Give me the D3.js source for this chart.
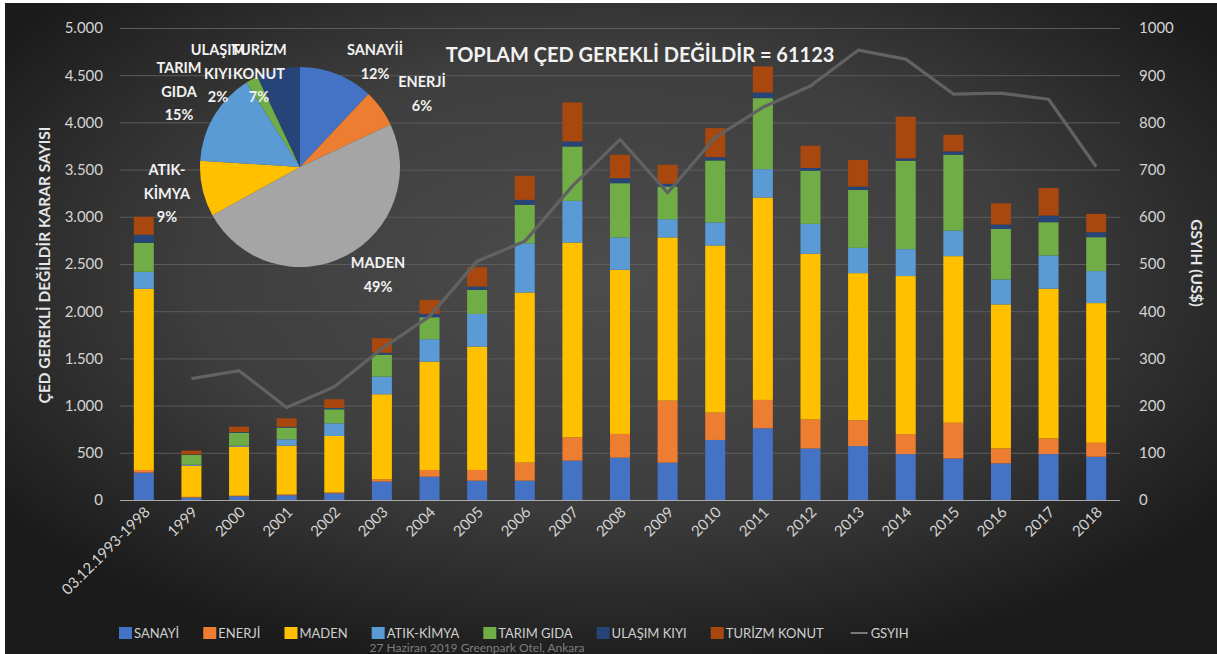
<!DOCTYPE html>
<html>
<head>
<meta charset="utf-8">
<script src="https://cdn.jsdelivr.net/npm/d3@7"></script>
<style>
  body { margin: 0; background: #fff; }
  svg { display: block; font-family: Lato, "Open Sans", sans-serif; }
</style>
</head>
<body>
<svg id="chart" width="1217" height="654"></svg>
<script>
// categories on the x axis
var categories = ["03.12.1993-1998", "1999", "2000", "2001", "2002", "2003", "2004", "2005",
  "2006", "2007", "2008", "2009", "2010", "2011", "2012", "2013", "2014", "2015", "2016", "2017", "2018"];

// stacked series (ÇED gerekli değildir karar sayısı)
var sanayi  = [290, 25, 40, 50, 71, 195, 247, 205, 205, 417, 449, 396, 636, 760, 546, 571, 486, 440, 388, 486, 458];
var enerji  = [28, 8, 5, 10, 9, 24, 71, 113, 191, 247, 251, 657, 290, 300, 307, 275, 212, 378, 158, 166, 148];
var maden   = [1919, 330, 520, 515, 598, 901, 1148, 1307, 1802, 2063, 1738, 1728, 1770, 2144, 1755, 1557, 1674, 1765, 1526, 1586, 1480];
var atik    = [180, 10, 10, 68, 135, 187, 237, 346, 522, 442, 343, 194, 244, 301, 317, 268, 285, 271, 264, 352, 339];
var tarim   = [307, 105, 138, 124, 148, 233, 233, 255, 407, 576, 575, 346, 657, 752, 564, 613, 937, 804, 536, 353, 359];
var ulasim  = [85, 5, 7, 8, 14, 20, 35, 35, 53, 53, 53, 28, 35, 60, 28, 36, 25, 35, 46, 70, 53];
var turizm  = [191, 40, 57, 91, 92, 154, 149, 205, 254, 413, 248, 202, 307, 276, 236, 282, 441, 176, 225, 292, 194];

// line on the right axis
var gsyih = [null, 257, 274, 196, 240, 321, 389, 506, 548, 665, 764, 651, 768, 832, 877, 953, 934, 860, 862, 849, 706];

var seriesNames = ["SANAYİ", "ENERJİ", "MADEN", "ATIK-KİMYA", "TARIM GIDA", "ULAŞIM KIYI", "TURİZM KONUT"];
var seriesColors = ["#4472C4", "#ED7D31", "#FFC000", "#5B9BD5", "#70AD47", "#264478", "#A8480F"];

// pie
var pieValues = [12, 6, 49, 9, 15, 2, 7];
var pieColors = ["#4472C4", "#ED7D31", "#A5A5A5", "#FFC000", "#5B9BD5", "#70AD47", "#264478"];
var pieLabels = [
  { lines: ["SANAYİİ", "12%"], x: 375, y: 55 },
  { lines: ["ENERJİ", "6%"], x: 422, y: 87 },
  { lines: ["MADEN", "49%"], x: 378, y: 268 },
  { lines: ["ATIK-", "KİMYA", "9%"], x: 167, y: 175 },
  { lines: ["TARIM", "GIDA", "15%"], x: 179, y: 73 },
  { lines: ["ULAŞIM", "KIYI", "2%"], x: 218, y: 55 },
  { lines: ["TURİZM", "KONUT", "7%"], x: 259, y: 55 }
];

var leftTicks = [0, 500, 1000, 1500, 2000, 2500, 3000, 3500, 4000, 4500, 5000];
var rightTicks = [0, 100, 200, 300, 400, 500, 600, 700, 800, 900, 1000];

var svg = d3.select("#chart");
var W = 1217, H = 654;

var defs = svg.append("defs");
var bg = defs.append("radialGradient").attr("id", "bg")
  .attr("cx", "50%").attr("cy", "42%").attr("r", "62%");
bg.append("stop").attr("offset", "0%").attr("stop-color", "#4c4c4c");
bg.append("stop").attr("offset", "55%").attr("stop-color", "#3e3e3e");
bg.append("stop").attr("offset", "100%").attr("stop-color", "#1b1b1b");

svg.append("rect").attr("x", 5).attr("y", 3).attr("width", W - 5).attr("height", H - 3)
  .attr("fill", "url(#bg)");

var plot = { left: 120, right: 1120, top: 28, bottom: 500 };

var x = d3.scaleBand().domain(categories)
  .range([plot.left, plot.right]).paddingInner(0.58).paddingOuter(0.29);
var y = d3.scaleLinear().domain([0, 5000]).range([plot.bottom, plot.top]);
var y2 = d3.scaleLinear().domain([0, 1000]).range([plot.bottom, plot.top]);

// gridlines
svg.append("g")
  .attr("transform", "translate(" + plot.left + ",0)")
  .call(d3.axisLeft(y).tickValues(leftTicks).tickSize(-(plot.right - plot.left)).tickFormat(""))
  .call(function(g) {
    g.select(".domain").remove();
    g.selectAll("line").attr("stroke", "#5c5c5c").attr("stroke-width", 1);
  });

// left axis labels
svg.append("g")
  .attr("transform", "translate(" + plot.left + ",0)")
  .call(d3.axisLeft(y).tickValues(leftTicks).tickSize(0).tickPadding(17)
    .tickFormat(function(d) { return d === 0 ? "0" : d3.format(",")(d).replace(",", "."); }))
  .call(function(g) {
    g.select(".domain").remove();
    g.selectAll("text").attr("fill", "#d4d4d4").style("font-size", "15px").style("font-family", "Lato");
  });

// right axis labels
svg.append("g")
  .attr("transform", "translate(" + plot.right + ",0)")
  .call(d3.axisRight(y2).tickValues(rightTicks).tickSize(0).tickPadding(19).tickFormat(d3.format("d")))
  .call(function(g) {
    g.select(".domain").remove();
    g.selectAll("text").attr("fill", "#d4d4d4").style("font-size", "15px").style("font-family", "Lato");
  });

// pie
var pie = d3.pie().sort(null).value(function(d) { return d; });
var arc = d3.arc().innerRadius(0).outerRadius(100);
var pieG = svg.append("g").attr("transform", "translate(300,167)");
pieG.selectAll("path").data(pie(pieValues)).enter().append("path")
  .attr("d", arc).attr("fill", function(d, i) { return pieColors[i]; });

// stacked bars
var rows = categories.map(function(c, i) {
  return { cat: c, "SANAYİ": sanayi[i], "ENERJİ": enerji[i], "MADEN": maden[i], "ATIK-KİMYA": atik[i],
    "TARIM GIDA": tarim[i], "ULAŞIM KIYI": ulasim[i], "TURİZM KONUT": turizm[i] };
});
var stacked = d3.stack().keys(seriesNames)(rows);

svg.append("g").selectAll("g").data(stacked).enter().append("g")
  .attr("fill", function(d, i) { return seriesColors[i]; })
  .selectAll("rect").data(function(d) { return d; }).enter().append("rect")
  .attr("x", function(d) { return x(d.data.cat); })
  .attr("width", x.bandwidth())
  .attr("y", function(d) { return y(d[1]); })
  .attr("height", function(d) { return y(d[0]) - y(d[1]); });

// baseline
svg.append("line").attr("x1", plot.left).attr("x2", plot.right)
  .attr("y1", plot.bottom + 0.5).attr("y2", plot.bottom + 0.5)
  .attr("stroke", "#a8a8a8").attr("stroke-width", 1.2);

// GSYIH line
var line = d3.line()
  .defined(function(d) { return d != null; })
  .x(function(d, i) { return x(categories[i]) + x.bandwidth() / 2; })
  .y(function(d) { return y2(d); });
svg.append("path").datum(gsyih)
  .attr("d", line).attr("fill", "none")
  .attr("stroke", "#626262").attr("stroke-width", 3.2).attr("stroke-linejoin", "round");

// x labels
svg.append("g").selectAll("text").data(categories).enter().append("text")
  .attr("transform", function(d) {
    return "translate(" + (x(d) + x.bandwidth() / 2 + 7) + ",513) rotate(-45)";
  })
  .attr("text-anchor", "end")
  .attr("fill", "#d4d4d4").style("font-size", "15px")
  .text(function(d) { return d; });

// pie labels
pieLabels.forEach(function(l) {
  var t = svg.append("text").attr("text-anchor", "middle")
    .attr("fill", "#f2f2f2").style("font-size", "14.5px").style("font-weight", "bold");
  l.lines.forEach(function(s, k) {
    t.append("tspan").attr("x", l.x).attr("y", l.y + k * 23.5).text(s);
  });
});

// title
svg.append("text").attr("x", 640).attr("y", 62).attr("text-anchor", "middle")
  .attr("fill", "#f2f2f2").style("font-size", "20px").style("font-weight", "bold")
  .text("TOPLAM ÇED GEREKLİ DEĞİLDİR = 61123");

// axis titles
svg.append("text").attr("transform", "translate(50,265) rotate(-90)")
  .attr("text-anchor", "middle").attr("fill", "#e6e6e6")
  .style("font-size", "15.5px").style("font-weight", "bold")
  .text("ÇED GEREKLİ DEĞİLDİR KARAR SAYISI");
svg.append("text").attr("transform", "translate(1191,263) rotate(90)")
  .attr("text-anchor", "middle").attr("fill", "#e6e6e6")
  .style("font-size", "15.5px").style("font-weight", "bold")
  .text("GSYIH (US$)");

// legend
var legendItems = seriesNames.map(function(n, i) { return { name: n, color: seriesColors[i], type: "rect" }; });
legendItems.push({ name: "GSYIH", color: "#7a7a7a", type: "line" });
var lx = 119;
var legend = svg.append("g");
legendItems.forEach(function(it) {
  if (it.type === "rect") {
    legend.append("rect").attr("x", lx).attr("y", 627).attr("width", 13).attr("height", 12).attr("fill", it.color);
    lx += 15;
  } else {
    legend.append("line").attr("x1", lx + 3).attr("x2", lx + 20).attr("y1", 633).attr("y2", 633)
      .attr("stroke", it.color).attr("stroke-width", 2);
    lx += 23;
  }
  var t = legend.append("text").attr("x", lx).attr("y", 638)
    .attr("fill", "#cfcfcf").style("font-size", "13px").text(it.name);
  lx += t.node().getComputedTextLength() + 24;
});

// footer note
svg.append("text").attr("x", 477).attr("y", 652).attr("text-anchor", "middle")
  .attr("fill", "#7d7d7d").style("font-size", "12px")
  .text("27 Haziran 2019 Greenpark Otel, Ankara");
</script>
</body>
</html>
